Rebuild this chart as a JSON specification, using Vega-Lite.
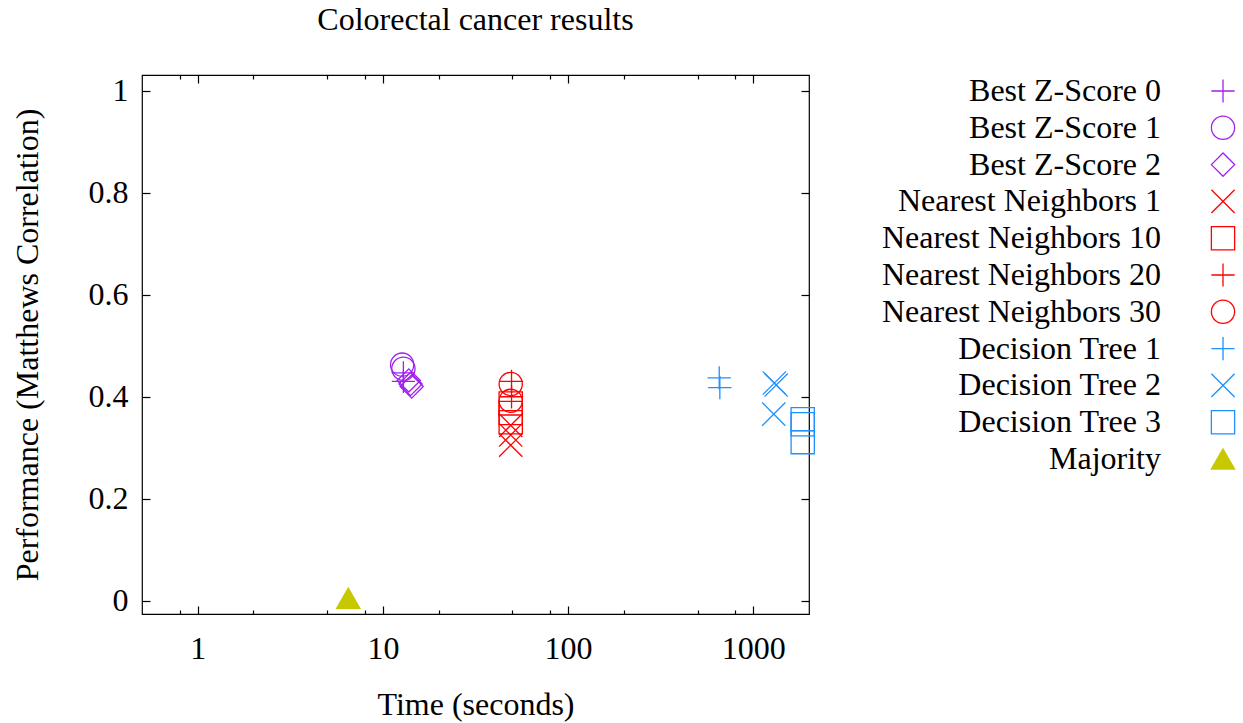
{
  "$schema": "https://vega.github.io/schema/vega-lite/v6.json",
  "width": 667,
  "height": 539,
  "autosize": {"type": "none"},
  "padding": {"left": 142, "top": 75, "right": 434, "bottom": 109},
  "background": "white",
  "title": {"text": "Colorectal cancer results", "font": "Liberation Serif", "fontSize": 32, "fontWeight": "normal", "color": "black", "anchor": "middle", "baseline": "alphabetic", "offset": 12},
  "config": {
    "view": {"stroke": "black", "strokeWidth": 1.2},
    "axis": {"domain": false, "grid": false, "labelFont": "Liberation Serif", "labelFontSize": 32, "labelColor": "black", "titleFont": "Liberation Serif", "titleFontSize": 32, "titleFontWeight": "normal", "titleColor": "black", "tickColor": "black", "tickWidth": 1.2}
  },
  "data": {"values": [
    {"series": "Best Z-Score 0", "time": 12.9, "perf": 0.447},
    {"series": "Best Z-Score 0", "time": 12.9, "perf": 0.43},
    {"series": "Best Z-Score 1", "time": 12.7, "perf": 0.463},
    {"series": "Best Z-Score 1", "time": 12.9, "perf": 0.455},
    {"series": "Best Z-Score 2", "time": 13.8, "perf": 0.432},
    {"series": "Best Z-Score 2", "time": 14.1, "perf": 0.425},
    {"series": "Best Z-Score 2", "time": 14.3, "perf": 0.42},
    {"series": "Nearest Neighbors 1", "time": 49, "perf": 0.344},
    {"series": "Nearest Neighbors 1", "time": 49, "perf": 0.325},
    {"series": "Nearest Neighbors 1", "time": 49, "perf": 0.305},
    {"series": "Nearest Neighbors 10", "time": 49, "perf": 0.387},
    {"series": "Nearest Neighbors 10", "time": 49, "perf": 0.368},
    {"series": "Nearest Neighbors 10", "time": 49, "perf": 0.35},
    {"series": "Nearest Neighbors 20", "time": 49.5, "perf": 0.43},
    {"series": "Nearest Neighbors 20", "time": 49.5, "perf": 0.4},
    {"series": "Nearest Neighbors 30", "time": 49, "perf": 0.425},
    {"series": "Nearest Neighbors 30", "time": 49, "perf": 0.392},
    {"series": "Decision Tree 1", "time": 655, "perf": 0.437},
    {"series": "Decision Tree 1", "time": 660, "perf": 0.418},
    {"series": "Decision Tree 2", "time": 1300, "perf": 0.427},
    {"series": "Decision Tree 2", "time": 1330, "perf": 0.423},
    {"series": "Decision Tree 2", "time": 1290, "perf": 0.366},
    {"series": "Decision Tree 3", "time": 1850, "perf": 0.356},
    {"series": "Decision Tree 3", "time": 1850, "perf": 0.346},
    {"series": "Decision Tree 3", "time": 1850, "perf": 0.311},
    {"series": "Majority", "time": 6.5, "perf": 0.005}
  ]},
  "layer": [
    {
      "mark": {"type": "point", "filled": false, "strokeWidth": 1.3, "size": 540, "opacity": 1},
      "encoding": {
        "x": {"field": "time", "type": "quantitative",
          "scale": {"type": "log", "domain": [0.5, 2000], "nice": false},
          "axis": {"orient": "bottom", "title": "Time (seconds)", "titlePadding": 25,
            "values": [0.8, 1, 2, 5, 8, 10, 20, 50, 80, 100, 200, 500, 800, 1000],
            "labelExpr": "indexof([1,10,100,1000], datum.value) >= 0 ? '' + datum.value : ''",
            "tickSize": {"condition": {"test": "indexof([1,10,100,1000], datum.value) < 0", "value": -4}, "value": -8},
            "labelPadding": 27, "labelFlush": false}},
        "y": {"field": "perf", "type": "quantitative",
          "scale": {"domain": [-0.026, 1.031], "nice": false, "zero": false},
          "axis": {"orient": "left", "title": "Performance (Matthews Correlation)", "titlePadding": 44,
            "values": [0, 0.2, 0.4, 0.6, 0.8, 1],
            "labelExpr": "'' + datum.value",
            "tickSize": -8, "labelPadding": 22}},
        "stroke": {"field": "series", "type": "nominal",
          "scale": {"domain": ["Best Z-Score 0", "Best Z-Score 1", "Best Z-Score 2", "Nearest Neighbors 1", "Nearest Neighbors 10", "Nearest Neighbors 20", "Nearest Neighbors 30", "Decision Tree 1", "Decision Tree 2", "Decision Tree 3", "Majority"],
            "range": ["#a020f0", "#a020f0", "#a020f0", "#ff0000", "#ff0000", "#ff0000", "#ff0000", "#1e90ff", "#1e90ff", "#1e90ff", "#c8c800"]},
          "legend": {"orient": "none", "legendX": 1065, "legendY": 0, "title": null, "padding": 0,
            "labelFont": "Liberation Serif", "labelFontSize": 32, "labelColor": "black", "labelAlign": "right", "labelOffset": -78, "labelLimit": 500,
            "symbolSize": 540, "symbolStrokeWidth": 1.3, "symbolOpacity": 1, "rowPadding": 4.8}},
        "fill": {"field": "series", "type": "nominal",
          "scale": {"domain": ["Best Z-Score 0", "Best Z-Score 1", "Best Z-Score 2", "Nearest Neighbors 1", "Nearest Neighbors 10", "Nearest Neighbors 20", "Nearest Neighbors 30", "Decision Tree 1", "Decision Tree 2", "Decision Tree 3", "Majority"],
            "range": ["transparent", "transparent", "transparent", "transparent", "transparent", "transparent", "transparent", "transparent", "transparent", "transparent", "#c8c800"]}},
        "shape": {"field": "series", "type": "nominal",
          "scale": {"domain": ["Best Z-Score 0", "Best Z-Score 1", "Best Z-Score 2", "Nearest Neighbors 1", "Nearest Neighbors 10", "Nearest Neighbors 20", "Nearest Neighbors 30", "Decision Tree 1", "Decision Tree 2", "Decision Tree 3", "Majority"],
            "range": ["M-1,0H1M0,-1V1", "circle", "diamond", "M-1,-1L1,1M-1,1L1,-1", "square", "M-1,0H1M0,-1V1", "circle", "M-1,0H1M0,-1V1", "M-1,-1L1,1M-1,1L1,-1", "square", "triangle-up"]}}
      }
    },
    {
      "transform": [{"filter": "false"}],
      "mark": {"type": "point"},
      "encoding": {
        "x": {"field": "time", "type": "quantitative",
          "scale": {"type": "log", "domain": [0.5, 2000], "nice": false},
          "axis": {"orient": "top", "title": null, "labels": false,
            "values": [0.8, 1, 2, 5, 8, 10, 20, 50, 80, 100, 200, 500, 800, 1000],
            "tickSize": {"condition": {"test": "indexof([1,10,100,1000], datum.value) < 0", "value": -4}, "value": -8}}},
        "y": {"field": "perf", "type": "quantitative",
          "scale": {"domain": [-0.026, 1.031], "nice": false, "zero": false},
          "axis": {"orient": "right", "title": null, "labels": false,
            "values": [0, 0.2, 0.4, 0.6, 0.8, 1], "tickSize": -8}}
      }
    }
  ],
  "resolve": {"axis": {"x": "independent", "y": "independent"}}
}
